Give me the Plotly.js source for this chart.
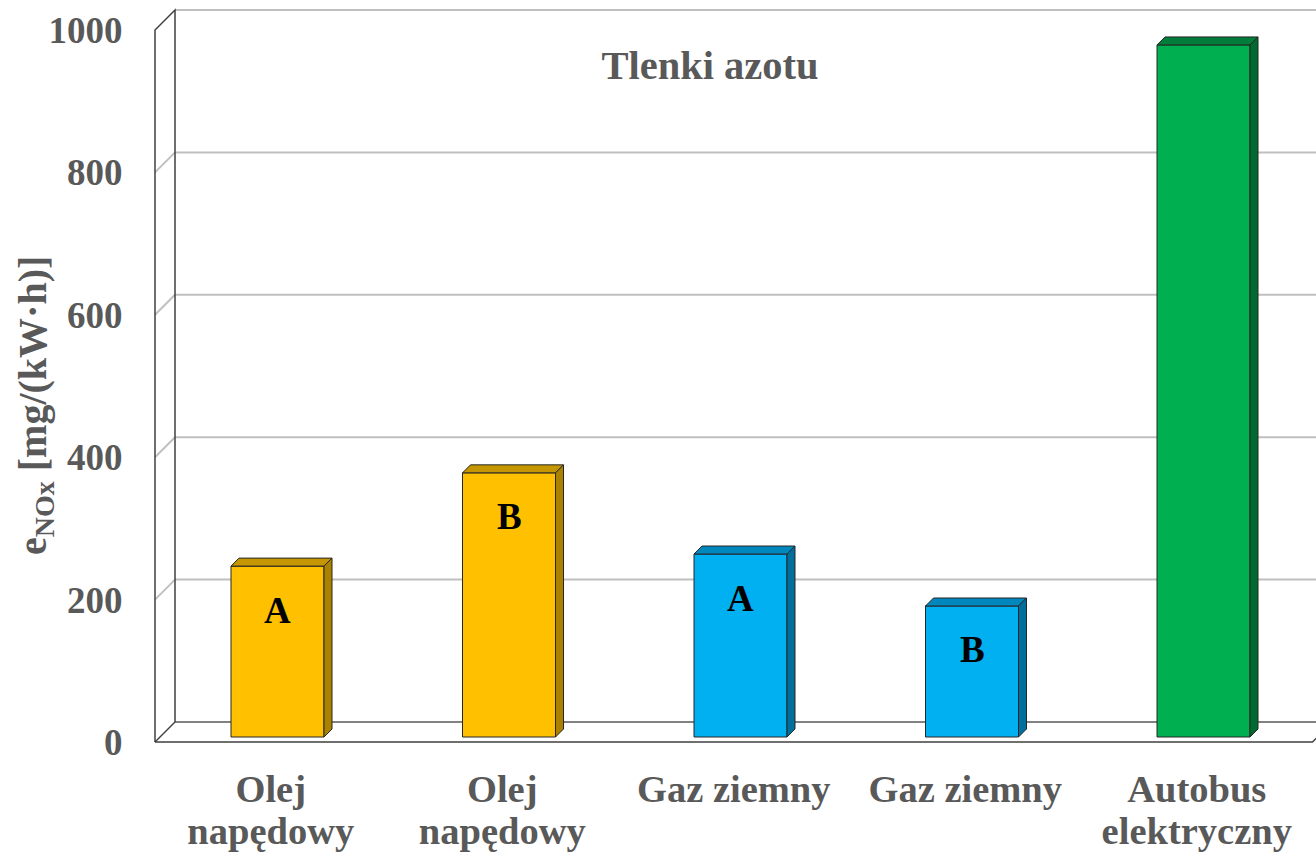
<!DOCTYPE html>
<html>
<head>
<meta charset="utf-8">
<script src="https://cdn.plot.ly/plotly-3.0.1.min.js"></script>
<style>html,body{margin:0;padding:0;background:#fff;}#chart{width:1316px;height:854px;}</style>
</head>
<body>
<div id="chart"></div>
<script>
// ---- data ----
const categories = ["Olej<br>napędowy", "Olej<br>napędowy", "Gaz ziemny", "Gaz ziemny", "Autobus<br>elektryczny"];
const values = [240, 371, 257, 184, 972];
const barLabels = ["A", "B", "A", "B", ""];
const yTicks = [0, 200, 400, 600, 800, 1000];
const chartTitle = "Tlenki azotu";
const yTitle = "e<sub>NOx</sub> [mg/(kW·h)]";

// ---- styles ----
const faceColors = ["#FFC000", "#FFC000", "#00B0F0", "#00B0F0", "#00B050"];
const topColors  = ["#C59600", "#C59600", "#0088BE", "#0088BE", "#007D3A"];
const sideColors = ["#AA8200", "#AA8200", "#006F9C", "#006F9C", "#006A31"];
const textGray = "#595959";
const FONT = "Liberation Serif, Times New Roman, serif";
const XLAB_SIZE = 38.5;

// ---- geometry (pixels) ----
const W = 1316, H = 854;
const M = {l: 140, r: 0, t: 5, b: 109};
const PX0 = 277.5, PXU = 231.5;   // bar-plane: pixel x of category 0, pixels per category
const PY0 = 737, PYU = 0.712;     // bar-plane: pixel y of value 0, pixels per value unit
const FRONT_SHIFT = 5;            // bar plane is 5px behind the front plane
const WALL_DEPTH = 20;            // depth of the 3D box in px
const BAR_DEPTH = 8;
const BAR_W_PX = 93;
const frontLeftPx = 155;
const nCat = categories.length;

const xd = px => (px - PX0) / PXU;
const yd = py => (PY0 - py) / PYU;
const frontY = v => PY0 + FRONT_SHIFT - PYU * v;
const P = (px, py) => xd(px) + "," + yd(py);

const shapes = [];
const gridColor = "#BFBFBF", edgeColor = "#404040";
const axisLenPx = nCat * PXU;
const frontRightPx = frontLeftPx + axisLenPx;

// back-wall and left-wall gridlines
yTicks.forEach(v => {
  const fy = frontY(v), by = fy - WALL_DEPTH;
  const bl = frontLeftPx + WALL_DEPTH;
  if (v !== 0) {
    shapes.push({type: "path", layer: "below", path: "M" + P(bl, by) + " L" + P(frontRightPx + WALL_DEPTH + 40, by),
      line: {color: gridColor, width: 2}});
  }
  if (v !== 0 && v !== yTicks[yTicks.length - 1]) {
    shapes.push({type: "path", layer: "below", path: "M" + P(frontLeftPx, fy) + " L" + P(bl, by),
      line: {color: gridColor, width: 2}});
  }
});
// floor
const f0 = frontY(0), fTop = frontY(yTicks[yTicks.length - 1]);
shapes.push({type: "path", layer: "below",
  path: "M" + P(frontLeftPx + WALL_DEPTH, f0 - WALL_DEPTH) + " L" + P(frontRightPx + WALL_DEPTH + 40, f0 - WALL_DEPTH),
  line: {color: "#595959", width: 1.5}});
shapes.push({type: "path", layer: "below",
  path: "M" + P(frontLeftPx, f0) + " L" + P(frontRightPx, f0) + " L" + P(frontRightPx + WALL_DEPTH, f0 - WALL_DEPTH),
  line: {color: edgeColor, width: 1.5}});
shapes.push({type: "path", layer: "below",
  path: "M" + P(frontLeftPx, f0) + " L" + P(frontLeftPx + WALL_DEPTH, f0 - WALL_DEPTH),
  line: {color: edgeColor, width: 1.5}});
// left wall
shapes.push({type: "path", layer: "below",
  path: "M" + P(frontLeftPx, f0) + " L" + P(frontLeftPx, fTop) + " L" + P(frontLeftPx + WALL_DEPTH, fTop - WALL_DEPTH) +
        " L" + P(frontLeftPx + WALL_DEPTH, f0 - WALL_DEPTH),
  line: {color: edgeColor, width: 1.5}});

// 3D faces of bars
const bw = BAR_W_PX / PXU, ddx = BAR_DEPTH / PXU, ddv = BAR_DEPTH / PYU;
values.forEach((v, i) => {
  const xL = i - bw / 2, xR = i + bw / 2;
  shapes.push({type: "path", layer: "above",
    path: `M${xL},${v} L${xR},${v} L${xR + ddx},${v + ddv} L${xL + ddx},${v + ddv} Z`,
    fillcolor: topColors[i], line: {color: "#262626", width: 1}});
  shapes.push({type: "path", layer: "above",
    path: `M${xR},0 L${xR},${v} L${xR + ddx},${v + ddv} L${xR + ddx},${ddv} Z`,
    fillcolor: sideColors[i], line: {color: "#262626", width: 1}});
});

const annotations = values.map((v, i) => ({
  x: i, y: v, xref: "x", yref: "y", text: barLabels[i], showarrow: false,
  yanchor: "middle", yshift: -44,
  font: {family: FONT, size: 37, color: "#000000", weight: "bold"}
})).filter(a => a.text !== "");

// y-axis title
annotations.push({
  xref: "paper", yref: "paper", x: (35 - M.l) / (W - M.l - M.r), y: (H - M.b - 406) / (H - M.t - M.b),
  xanchor: "center", yanchor: "middle", textangle: -90, showarrow: false, text: yTitle,
  font: {family: FONT, size: 40, color: textGray, weight: "bold"}
});

const xrange = [xd(M.l), xd(W - M.r)];
const yrange = [yd(H - M.b), yd(M.t)];
const yshiftVal = FRONT_SHIFT / PYU;

const traces = [
  {type: "bar", x: values.map((_, i) => i), y: values, width: bw,
   marker: {color: faceColors, line: {color: "#262626", width: 1}},
   hoverinfo: "skip", showlegend: false},
  {type: "scatter", x: [0], y: [0], yaxis: "y2", mode: "markers", marker: {opacity: 0},
   hoverinfo: "skip", showlegend: false}
];

const layout = {
  width: W, height: H, margin: M,
  paper_bgcolor: "#ffffff", plot_bgcolor: "#ffffff",
  showlegend: false,
  title: {text: chartTitle, x: 710 / W, xanchor: "center", y: 1 - 65 / H, yanchor: "middle",
          font: {family: FONT, size: 40.5, color: textGray, weight: "bold"}},
  xaxis: {range: xrange, showgrid: false, zeroline: false, showline: false,
          tickvals: categories.map((_, i) => xd(frontLeftPx + PXU * (i + 0.5))),
          ticktext: categories.map(c => c.split("<br>").map(s => `<span style="font-size:${XLAB_SIZE}px">${s}</span>`).join("<br>")),
          ticks: "outside", ticklen: 17, tickcolor: "rgba(0,0,0,0)",
          tickfont: {family: FONT, size: 32.5, color: textGray, weight: "bold"}, fixedrange: true},
  yaxis: {range: yrange, showgrid: false, zeroline: false, showline: false, showticklabels: false, fixedrange: true},
  yaxis2: {range: [yrange[0] + yshiftVal, yrange[1] + yshiftVal], overlaying: "y", side: "left",
           showgrid: false, zeroline: false, showline: false,
           tickvals: yTicks, ticktext: yTicks.map(String),
           ticks: "outside", ticklen: 9, tickcolor: "rgba(0,0,0,0)",
           tickfont: {family: FONT, size: 37, color: textGray, weight: "bold"},
           fixedrange: true},
  shapes: shapes,
  annotations: annotations
};

Plotly.newPlot("chart", traces, layout, {staticPlot: true, displayModeBar: false});
</script>
</body>
</html>
